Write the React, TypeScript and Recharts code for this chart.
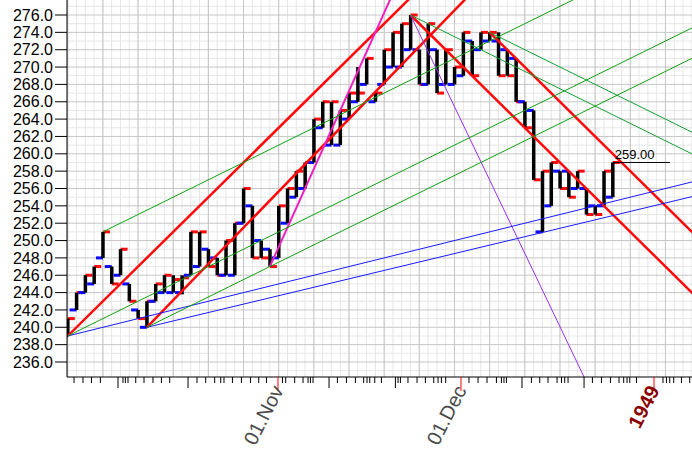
import { Bar, CartesianGrid, ComposedChart, ReferenceLine, XAxis, YAxis } from 'recharts';

// daily bars, open / high / low / close
const opens = [
    239, 242, 244, 245, 248, 247, 246, 245, 242, 240, 243, 244, 244, 244, 246, 247, 249, 248, 246, 246,
    252, 254, 250, 249, 248, 252, 255, 256, 259, 263, 261, 261, 264, 266, 268, 266, 268, 270, 270, 272,
    272, 268, 272, 268, 268, 269, 273, 272, 273, 273, 272, 271, 266, 265, 251, 254, 258, 258, 256, 256,
    254, 254, 255,
];
const highs = [
    241, 244, 246, 247, 251, 247, 249, 245, 242, 243, 245, 246, 246, 246, 251, 251, 249, 248, 250, 252,
    256, 254, 250, 249, 254, 256, 258, 259, 264, 266, 266, 265, 267, 270, 271, 267, 272, 274, 275, 276,
    272, 275, 272, 272, 270, 274, 273, 274, 274, 274, 272, 271, 266, 265, 258, 259, 258, 258, 258, 256,
    254, 258, 259,
];
const lows = [
    239, 242, 244, 245, 248, 245, 246, 243, 241, 240, 243, 244, 244, 243.8, 246, 247, 247, 246, 246, 246,
    252, 248, 248, 247, 248, 252, 255, 256, 259, 263, 261, 261, 264, 266, 268, 266, 268, 270, 270, 272,
    268, 268, 267, 268, 268, 269, 269, 272, 273, 269, 269, 266, 263, 257, 251, 254, 256, 255, 256, 253,
    253, 254, 255,
];
const closes = [
    241, 244, 246, 247, 251, 245, 249, 243, 241, 243, 245, 246, 245.5, 245.7, 251, 251, 247, 246, 250, 252,
    256, 248, 248, 247, 254, 256, 258, 259, 264, 266, 266, 265, 267, 267, 271, 267, 272, 274, 275, 276,
    268, 275, 267, 272, 270, 274, 269, 274, 274, 269, 269, 266, 263, 257, 258, 259, 256, 255, 258, 253,
    253, 258, 259,
];

// price axis
const priceTicks = [236, 238, 240, 242, 244, 246, 248, 250, 252, 254, 256, 258, 260, 262, 264, 266, 268, 270, 272, 274, 276];

// date axis (bar index units)
const dayTicks = [
    1.72, 2.74, 3.7, 4.72, 7.29, 7.56, 7.86, 8.74, 9.68, 10.7, 11.66, 12.6, 15.71, 16.7, 17.72, 18.41, 18.78,
    19.74, 20.76, 21.79, 22.73, 23.61, 25.43, 25.8, 26.82, 27.77, 28.34, 28.61, 28.91, 31.68, 32.71, 33.73,
    34.67, 35.05, 35.36, 35.93, 36.69, 38.58, 38.85, 39.71, 40.74, 41.69, 42.64, 43.13, 43.51, 44.0, 46.65,
    47.68, 48.7, 49.77, 50.34, 50.63, 50.91, 53.75, 54.7, 55.64, 56.67, 57.17, 57.54, 57.92, 60.69, 61.72,
    62.74, 63.72, 64.25, 64.63, 64.94, 65.7, 68.72, 69.11, 69.49, 69.94, 70.82, 71.76,
];
const weekTicks = [6.72, 14.69, 30.73, 38.28, 52.68, 59.74];
const monthTicks = [24.92, 45.74, 67.7];
const monthLabels = ['01.Nov', '01.Dec', '1949'];

// trend lines: [bar index, price] anchors
const lineNames = ['r1', 'r2', 'r3', 'r4', 'pink', 'purple', 'b1', 'b2', 'g1', 'g2', 'g3', 'd1', 'd2'];
const lineStart: [number, number][] = [
    [1, 239], [10, 240], [40, 276], [49, 274], [24, 247], [40, 276],
    [1, 239], [10, 240], [5, 251], [1, 239], [10, 240], [40, 276], [49, 274],
];
const lineEnd: [number, number][] = [
    [80, 318], [60, 292.2], [80, 236], [80, 243], [40, 283], [62, 229.5],
    [80, 258.75], [80, 257], [80, 288.5], [80, 278.5], [80, 275], [80, 256], [80, 258.5],
];

const FONT = '"Liberation Sans", Arial, sans-serif';
const RED = '#ff0a0a';
const BLUE = '#0a0aff';

const lineStyle: Record<string, { stroke: string; width: number }> = {
    r1: { stroke: RED, width: 2.5 },
    r2: { stroke: RED, width: 2.5 },
    r3: { stroke: RED, width: 2.5 },
    r4: { stroke: RED, width: 2.5 },
    pink: { stroke: '#f020c0', width: 2 },
    purple: { stroke: '#9a2cf0', width: 1 },
    b1: { stroke: '#1a1aff', width: 1 },
    b2: { stroke: '#1a1aff', width: 1 },
    g1: { stroke: '#10a010', width: 1 },
    g2: { stroke: '#10a010', width: 1 },
    g3: { stroke: '#10a010', width: 1 },
    d1: { stroke: '#10a030', width: 1 },
    d2: { stroke: '#10a030', width: 1 },
};

const data = opens.map((open, k) => ({
    idx: k + 1,
    open,
    high: highs[k],
    low: lows[k],
    close: closes[k],
}));

const lastBar = data[data.length - 1];

// grid positions
const gridIdx: number[] = [];
for (let i = 1; i <= 72; i++) gridIdx.push(i);
const majorIdx = gridIdx.filter((i) => i % 4 === 1);
const gridLevels: number[] = [];
for (let p = 235; p <= 277; p++) gridLevels.push(p);
const minorLevels = gridLevels.filter((p) => p % 2 === 1);

function OhlcShape(props: any) {
    const { x, y, width, height, payload } = props;
    if (x == null || y == null || !height) return null;
    const top = Math.min(y, y + height);
    const h = Math.abs(height);
    const span = payload.high - payload.low;
    const py = (v: number) => top + ((payload.high - v) / span) * h;
    const cx = x + width / 2;
    return (
        <g>
            <rect x={cx - 7} y={py(payload.open) - 1.5} width={7} height={3} fill={BLUE} />
            <rect x={cx} y={py(payload.close) - 1.5} width={7} height={3} fill={RED} />
            <rect x={cx - 1.75} y={top} width={3.5} height={h} fill="#000" />
        </g>
    );
}

function DateTick(props: any) {
    const { x, y, payload } = props;
    const v = payload.value;
    const m = monthTicks.indexOf(v);
    if (m >= 0) {
        const isYear = monthLabels[m] === '1949';
        const ax = x + 6;
        const ay = y + 13;
        return (
            <g>
                <line x1={x} y1={y} x2={x} y2={y + 14} stroke="#ff0000" />
                <text
                    x={ax}
                    y={ay}
                    textAnchor="end"
                    transform={`rotate(-63 ${ax} ${ay})`}
                    fontFamily={FONT}
                    fontSize={20}
                    fontWeight={isYear ? 'bold' : 'normal'}
                    fill={isYear ? '#8b0000' : '#4a4a4a'}
                >
                    {monthLabels[m]}
                </text>
            </g>
        );
    }
    const len = weekTicks.includes(v) ? 11 : 6;
    return <line x1={x} y1={y} x2={x} y2={y + len} stroke="#000" />;
}

function LastLabel(props: any) {
    const { viewBox } = props;
    if (!viewBox) return null;
    return (
        <text x={viewBox.x + 2} y={viewBox.y - 3} fontFamily={FONT} fontSize={13} fill="#000">
            {lastBar.close.toFixed(2)}
        </text>
    );
}

export default function App() {
    return (
        <div style={{ position: 'absolute', left: 0, top: 0, background: '#fff' }}>
            <ComposedChart
                width={692}
                height={461}
                data={data}
                margin={{ top: 0, right: 0, bottom: 0, left: 0 }}
                style={{ fontFamily: FONT }}
            >
                <CartesianGrid stroke="#e6e6e6" horizontalValues={minorLevels} verticalValues={gridIdx} />
                <CartesianGrid stroke="#c6c6c6" horizontalValues={priceTicks} verticalValues={majorIdx} />
                <XAxis
                    type="number"
                    dataKey="idx"
                    domain={[0.92, 72.02]}
                    allowDataOverflow
                    ticks={[...dayTicks, ...weekTicks, ...monthTicks]}
                    interval={0}
                    tickLine={false}
                    tickSize={0}
                    tickMargin={0}
                    tick={<DateTick />}
                    height={84}
                    axisLine={{ stroke: '#000' }}
                />
                <YAxis
                    domain={[234.27, 277.73]}
                    allowDataOverflow
                    ticks={priceTicks}
                    interval={0}
                    width={67}
                    tickSize={12}
                    tickMargin={2}
                    tickFormatter={(v: number) => v.toFixed(1)}
                    tick={{ fill: '#000', fontSize: 16, fontFamily: FONT }}
                    axisLine={{ stroke: '#000' }}
                    tickLine={{ stroke: '#000' }}
                />
                <Bar
                    dataKey={(d: any) => [d.low, d.high]}
                    barSize={3}
                    shape={<OhlcShape />}
                    isAnimationActive={false}
                />
                {lineNames.map((name, k) => (
                    <ReferenceLine
                        key={name}
                        segment={[
                            { x: lineStart[k][0], y: lineStart[k][1] },
                            { x: lineEnd[k][0], y: lineEnd[k][1] },
                        ]}
                        stroke={lineStyle[name].stroke}
                        strokeWidth={lineStyle[name].width}
                        ifOverflow="hidden"
                    />
                ))}
                <ReferenceLine
                    segment={[
                        { x: lastBar.idx, y: lastBar.close },
                        { x: lastBar.idx + 6.5, y: lastBar.close },
                    ]}
                    stroke="#000"
                    strokeWidth={1}
                    ifOverflow="hidden"
                    label={<LastLabel />}
                />
            </ComposedChart>
        </div>
    );
}
